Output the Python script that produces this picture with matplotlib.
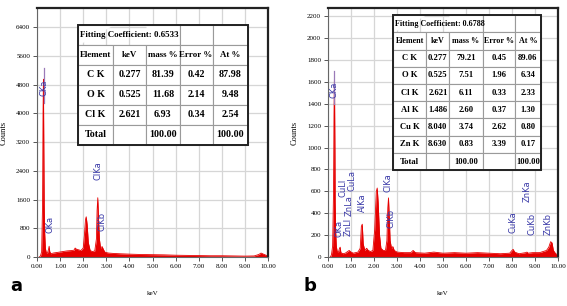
import matplotlib.pyplot as plt
from matplotlib.patches import Rectangle

# ---- spectrum a (keV, counts) ----
kev_a = [0.10, 0.15, 0.20, 0.24, 0.26, 0.277, 0.29, 0.31, 0.33, 0.36, 0.40, 0.45, 0.50, 0.525,
         0.55, 0.60, 0.70, 0.80, 0.90, 1.00, 1.10, 1.20, 1.30, 1.40, 1.50, 1.60, 1.65, 1.70,
         1.80, 1.90, 2.00, 2.05, 2.10, 2.13, 2.17, 2.22, 2.30, 2.40, 2.50, 2.57, 2.60, 2.63,
         2.66, 2.70, 2.75, 2.82, 2.88, 2.95, 3.10, 3.30, 3.60, 4.00, 4.50, 5.00, 5.50, 6.00,
         6.50, 7.00, 7.50, 8.00, 8.50, 9.00, 9.40, 9.60, 9.70, 9.80, 9.95, 10.00]
cnt_a = [0, 30, 150, 1500, 4000, 4950, 3500, 1400, 700, 250, 120, 100, 220, 300,
         150, 90, 110, 120, 130, 140, 150, 160, 170, 175, 180, 190, 250, 220,
         200, 180, 250, 600, 1050, 1120, 900, 400, 180, 150, 170, 500, 1300, 1650,
         1100, 500, 250, 290, 200, 130, 110, 100, 90, 80, 70, 65, 60, 50,
         45, 40, 35, 35, 30, 25, 30, 70, 110, 80, 40, 30]

# ---- spectrum b ----
kev_b = [0.10, 0.15, 0.20, 0.24, 0.26, 0.28, 0.30, 0.31, 0.33, 0.36, 0.40, 0.45, 0.50, 0.53,
         0.56, 0.65, 0.75, 0.85, 0.92, 1.00, 1.10, 1.20, 1.30, 1.40, 1.45, 1.49, 1.53, 1.60,
         1.68, 1.75, 1.85, 1.95, 2.03, 2.10, 2.14, 2.18, 2.24, 2.30, 2.40, 2.50, 2.56, 2.60,
         2.63, 2.66, 2.70, 2.76, 2.82, 2.88, 3.00, 3.30, 3.60, 3.70, 3.80, 4.20, 4.60, 5.00,
         5.50, 6.00, 6.50, 7.00, 7.50, 7.90, 8.00, 8.05, 8.12, 8.30, 8.60, 8.65, 8.70, 8.90,
         9.20, 9.50, 9.60, 9.68, 9.74, 9.80, 9.90, 10.00]
cnt_b = [0, 20, 100, 600, 1300, 1650, 1000, 500, 250, 100, 50, 40, 80, 90,
         40, 30, 35, 50, 60, 45, 35, 40, 45, 80, 280, 300, 120, 60,
         80, 60, 50, 60, 250, 600, 630, 500, 200, 80, 60, 60, 150, 450,
         540, 380, 150, 80, 95, 60, 45, 40, 40, 60, 40, 35, 45, 35,
         40, 35, 40, 35, 30, 35, 60, 70, 45, 30, 40, 45, 35, 40,
         40, 60, 90, 140, 130, 60, 30, 20]

# ---- peak labels (name, keV, counts at label centre) ----
lab_a = ["CKa", "OKa", "ClKa", "ClKb"]
lab_a_x = [0.30, 0.55, 2.63, 2.82]
lab_a_y = [4700, 920, 2400, 1000]

lab_b = ["CKa", "OKa", "ZnLl", "CuLl", "ZnLa", "CuLa", "AlKa", "ClKa", "ClKb",
         "CuKa", "ZnKa", "CuKb", "ZnKb"]
lab_b_x = [0.28, 0.48, 0.87, 0.64, 0.90, 1.06, 1.48, 2.60, 2.76, 8.04, 8.65, 8.87, 9.57]
lab_b_y = [1530, 260, 275, 630, 470, 700, 500, 675, 350, 320, 600, 300, 305]

# ---- tables ----
head = ["Element", "keV", "mass %", "Error %", "At %"]
fit_a = "Fitting Coefficient: 0.6533"
rows_a = [["C K", "0.277", "81.39", "0.42", "87.98"],
          ["O K", "0.525", "11.68", "2.14", "9.48"],
          ["Cl K", "2.621", "6.93", "0.34", "2.54"],
          ["Total", "", "100.00", "", "100.00"]]
fit_b = "Fitting Coefficient: 0.6788"
rows_b = [["C K", "0.277", "79.21", "0.45", "89.06"],
          ["O K", "0.525", "7.51", "1.96", "6.34"],
          ["Cl K", "2.621", "6.11", "0.33", "2.33"],
          ["Al K", "1.486", "2.60", "0.37", "1.30"],
          ["Cu K", "8.040", "3.74", "2.62", "0.80"],
          ["Zn K", "8.630", "0.83", "3.39", "0.17"],
          ["Total", "", "100.00", "", "100.00"]]

serif = "Liberation Serif"
red = "#e60000"
blue = "#3a3aa8"


def spectrum(ax, kev, cnt, yticks, ytop):
    ax.fill_between(kev, cnt, color=red, lw=0)
    ax.plot(kev, cnt, color=red, lw=0.6)
    ax.set_xlim(0, 10)
    ax.set_ylim(0, ytop)
    ax.set_xticks(range(11))
    ax.set_xticklabels([f"{v:.2f}" for v in range(11)])
    ax.set_yticks(yticks)
    ax.grid(True, color="#d6d6d6", lw=0.9)
    ax.set_axisbelow(True)
    ax.tick_params(labelsize=5, length=3, width=0.7, color="#555555", pad=2)
    for t in ax.get_xticklabels() + ax.get_yticklabels():
        t.set_family(serif)
    ax.spines["left"].set_color("#666666")
    ax.spines["bottom"].set_color("#666666")
    for s in ["top", "right"]:
        ax.spines[s].set_color("#222222")
        ax.spines[s].set_linewidth(1.6)
    ax.set_ylabel("Counts", family=serif, fontsize=6, labelpad=6)
    ax.set_xlabel("keV", family=serif, fontsize=5, labelpad=16)


def labels(ax, names, xs, ys):
    for n, x, y in zip(names, xs, ys):
        ax.text(x, y, n, rotation=90, ha="center", va="center", color=blue,
                fontsize=6, family="DejaVu Sans")


def table(ax, fit, rows, bbox, widths, fs, fs_head):
    cells = [["", "", "", "", ""], head] + rows
    tb = ax.table(cellText=cells, bbox=bbox, colWidths=widths, cellLoc="center")
    tb.set_zorder(8)
    tb.auto_set_font_size(False)
    for (r, c), cell in tb.get_celld().items():
        cell.set_edgecolor("#9a9a9a")
        cell.set_linewidth(0.8)
        cell.get_text().set_fontsize(fs_head if r == 1 else fs)
        cell.get_text().set_family(serif)
        cell.get_text().set_weight("bold")
        if r == 0:
            if c == 0:
                cell.visible_edges = "LTB"
            elif c == 1:
                cell.visible_edges = "TB"
            elif c == 2:
                cell.visible_edges = "TBR"
    nrow = len(cells)
    ax.text(bbox[0] + 0.008, bbox[1] + bbox[3] * (1 - 0.5 / nrow), fit,
            transform=ax.transAxes, ha="left", va="center", fontsize=fs_head,
            family=serif, weight="bold", zorder=20)
    ax.add_patch(Rectangle((bbox[0], bbox[1]), bbox[2], bbox[3], transform=ax.transAxes,
                           fill=False, ec="#222222", lw=1.4, zorder=21))


fig = plt.figure(figsize=(5.67, 3.06), dpi=100)
ax1 = fig.add_axes([0.0653, 0.1601, 0.4074, 0.8137])
ax2 = fig.add_axes([0.5785, 0.1601, 0.4056, 0.8137])

spectrum(ax1, kev_a, cnt_a, range(0, 6401, 800), 6930)
spectrum(ax2, kev_b, cnt_b, range(0, 2201, 200), 2274)

ax1.plot([lab_a_x[0], lab_a_x[0]], [4300, 5260], color="#9a7ab8", lw=0.9)
ax2.plot([lab_b_x[0], lab_b_x[0]], [1400, 1700], color="#9a7ab8", lw=0.9)
labels(ax1, lab_a, lab_a_x, lab_a_y)
labels(ax2, lab_b, lab_b_x, lab_b_y)

table(ax1, fit_a, rows_a, [0.177, 0.45, 0.736, 0.482], [35, 33, 33, 33, 35], 7.2, 6.4)
table(ax2, fit_b, rows_b, [0.283, 0.349, 0.643, 0.622], [33, 23, 33, 32, 26], 6.2, 5.8)

fig.text(0.028, 0.05, "a", fontsize=13, weight="bold", ha="center", va="baseline")
fig.text(0.547, 0.05, "b", fontsize=13, weight="bold", ha="center", va="baseline")

fig.savefig("out.png", dpi=100)
